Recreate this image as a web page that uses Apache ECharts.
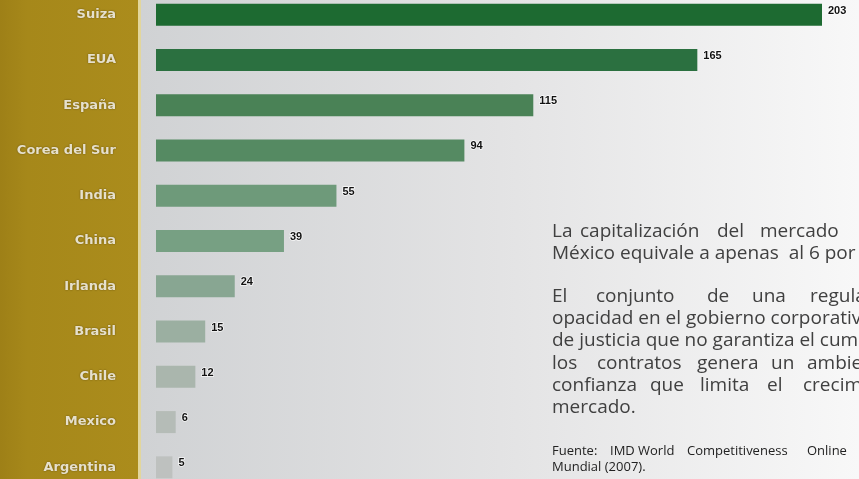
<!DOCTYPE html>
<html>
<head>
<meta charset="utf-8">
<script src="https://cdn.jsdelivr.net/npm/echarts@6/dist/echarts.min.js"></script>
<style>
html,body{margin:0;padding:0;background:#fff;}
#chart{width:859px;height:479px;}
</style>
</head>
<body>
<div id="chart"></div>
<script>
// ---- data ----
const categories = ['Suiza', 'EUA', 'España', 'Corea del Sur', 'India', 'China', 'Irlanda', 'Brasil', 'Chile', 'Mexico', 'Argentina'];
const values = [203, 165, 115, 94, 55, 39, 24, 15, 12, 6, 5];

// ---- styles ----
const barColors = ['#1d6a31', '#2b7040', '#4a8256', '#558a62', '#6e9a7a', '#77a083', '#88a692', '#9bafa1', '#aab6ad', '#b5bcb7', '#bec1bf'];

const bodyFont = '19px "Open Sans", sans-serif';
const srcFont = '13px "Open Sans", sans-serif';
const textColor = '#404040';

// paragraph words (justified lines placed word by word)
const textItems = [
  ['La', 552, 232], ['capitalización', 580, 232], ['del', 717, 232], ['mercado', 760, 232],
  ['México equivale a apenas  al 6 por ciento', 552, 254],
  ['El', 552, 297], ['conjunto', 596, 297], ['de', 707, 297], ['una', 752, 297], ['regulación', 810, 297],
  ['opacidad en el gobierno corporativo', 552, 319],
  ['de justicia que no garantiza el cumplimiento', 552, 341],
  ['los', 552, 364], ['contratos', 597, 364], ['genera', 697, 364], ['un', 771, 364], ['ambiente', 807, 364],
  ['confianza', 552, 386], ['que', 650, 386], ['limita', 700, 386], ['el', 767, 386], ['crecimiento', 803, 386],
  ['mercado.', 552, 408]
];
const srcItems = [
  ['Fuente:', 552, 451], ['IMD', 610, 451], ['World', 638, 451], ['Competitiveness', 687, 451], ['Online', 807, 451],
  ['Mundial (2007).', 552, 467]
];

const chart = echarts.init(document.getElementById('chart'), null, {renderer: 'canvas'});

const graphics = [
  {
    type: 'rect', z: -10, silent: true,
    shape: {x: 141, y: 0, width: 718, height: 479},
    style: {fill: new echarts.graphic.LinearGradient(0, 0, 1, 0, [
      {offset: 0, color: '#d0d2d4'},
      {offset: 0.5, color: '#e3e3e4'},
      {offset: 1, color: '#f8f8f8'}
    ])}
  },
  {
    type: 'rect', z: -9, silent: true,
    shape: {x: 0, y: 0, width: 138, height: 479},
    style: {fill: new echarts.graphic.LinearGradient(0, 0, 1, 0, [
      {offset: 0, color: '#9e8017'},
      {offset: 0.2, color: '#a6881a'},
      {offset: 1, color: '#ab8c1c'}
    ])}
  },
  {
    type: 'rect', z: -9, silent: true,
    shape: {x: 138, y: 0, width: 3, height: 479},
    style: {fill: '#e2d69c'}
  }
];
textItems.forEach(function (t) {
  graphics.push({type: 'text', z: 10, silent: true,
    style: {text: t[0], x: t[1], y: t[2], font: bodyFont, fill: textColor, verticalAlign: 'middle'}});
});
srcItems.forEach(function (t) {
  graphics.push({type: 'text', z: 10, silent: true,
    style: {text: t[0], x: t[1], y: t[2], font: srcFont, fill: '#222', verticalAlign: 'middle'}});
});

chart.setOption({
  animation: false,
  backgroundColor: 'transparent',
  graphic: {elements: graphics},
  grid: {left: 156, right: 37, top: -8, bottom: -11, containLabel: false, outerBoundsMode: 'none'},
  xAxis: {
    type: 'value', min: 0, max: 'dataMax', show: false
  },
  yAxis: {
    type: 'category', inverse: true, data: categories,
    axisLine: {show: false}, axisTick: {show: false}, splitLine: {show: false},
    axisLabel: {
      margin: 40, align: 'right',
      fontFamily: '"DejaVu Sans", sans-serif', fontWeight: 'bold', fontSize: 13,
      color: '#e6e0cc',
      textShadowColor: 'rgba(70,50,0,0.7)', textShadowBlur: 2, textShadowOffsetX: 0, textShadowOffsetY: 0
    }
  },
  series: [{
    type: 'bar',
    barWidth: 22,
    data: values.map(function (v, i) {
      return {value: v, itemStyle: {color: barColors[i]}};
    }),
    label: {
      show: true, position: 'right', distance: 6, offset: [0, -4],
      fontFamily: '"Liberation Sans", Arial, sans-serif', fontWeight: 'bold', fontSize: 11,
      color: '#111',
      textBorderColor: 'rgba(255,255,255,0.8)', textBorderWidth: 1.5
    }
  }]
});
</script>
</body>
</html>
